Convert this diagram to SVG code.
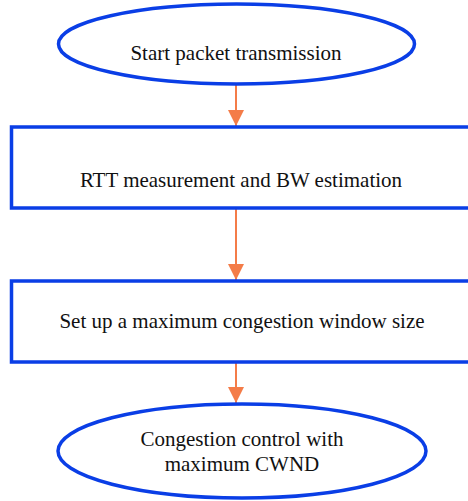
<svg xmlns="http://www.w3.org/2000/svg" width="468" height="501" viewBox="0 0 468 501">
<defs>
<style>
.shape{fill:#ffffff;stroke:#0a3ee6;stroke-width:3.5}
.lbl{font-family:"Liberation Serif","Times New Roman",serif;font-size:21px;fill:#111111;text-anchor:middle}
.conn{stroke:#f47c48;stroke-width:2;fill:none}
</style>
<marker id="ah" viewBox="0 0 16 16" refX="16" refY="8" markerWidth="16" markerHeight="16" markerUnits="userSpaceOnUse" orient="auto">
<path d="M0,0 L16,8 L0,16 z" fill="#f47c48"/>
</marker>
</defs>
<rect width="468" height="501" fill="#ffffff"/>
<g id="connectors">
<line class="conn" x1="236" y1="85" x2="236" y2="126" marker-end="url(#ah)"/>
<line class="conn" x1="236" y1="209" x2="236" y2="280" marker-end="url(#ah)"/>
<line class="conn" x1="236" y1="363" x2="236" y2="403" marker-end="url(#ah)"/>
</g>
<g id="start">
<ellipse class="shape" cx="236.5" cy="44" rx="178" ry="40"/>
<text class="lbl" x="236" y="60">Start packet transmission</text>
</g>
<g id="rtt">
<rect class="shape" x="11.5" y="127" width="470" height="81"/>
<text class="lbl" x="241" y="187">RTT measurement and BW estimation</text>
</g>
<g id="setup">
<rect class="shape" x="11.5" y="281" width="470" height="81"/>
<text class="lbl" x="242" y="328">Set up a maximum congestion window size</text>
</g>
<g id="control">
<ellipse class="shape" cx="242" cy="451" rx="184" ry="47"/>
<text class="lbl" x="242" y="446">Congestion control with</text>
<text class="lbl" x="242" y="471">maximum CWND</text>
</g>
</svg>
